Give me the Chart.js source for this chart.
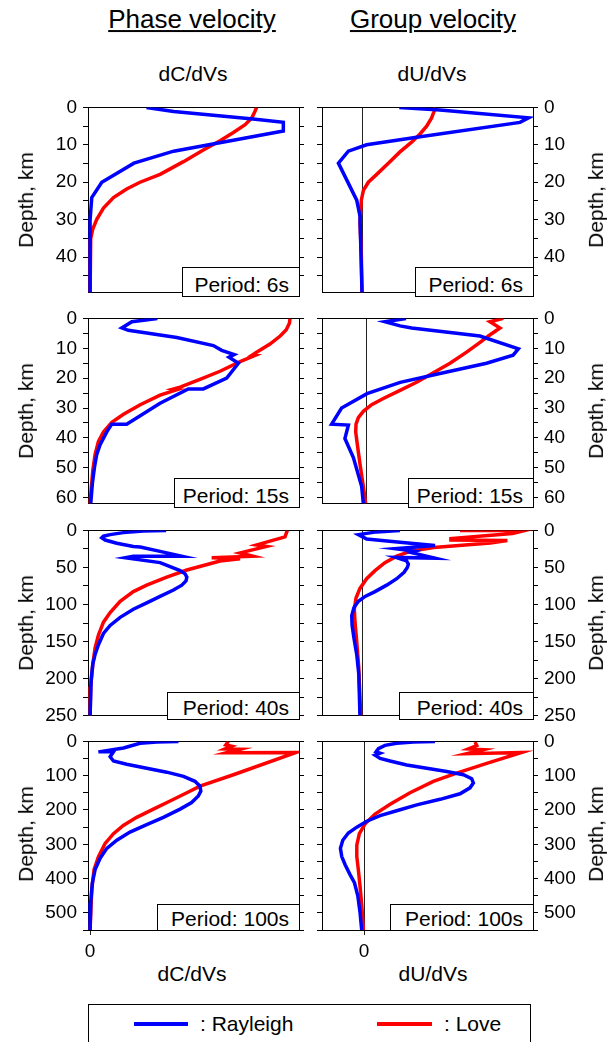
<!DOCTYPE html>
<html>
<head>
<meta charset="utf-8">
<title>Depth sensitivity kernels</title>
<script src="https://cdn.jsdelivr.net/npm/chart.js@4.4.0/dist/chart.umd.min.js"></script>
<style>
  body { margin: 0; background: #fff; font-family: "Liberation Sans", Arial, sans-serif; color: #000; }
  #page { position: relative; width: 614px; height: 1042px; overflow: hidden; background: #fff; }
  .t { position: absolute; white-space: nowrap; transform: translate(-50%, -50%); line-height: 1.15; }
  .rot { transform: translate(-50%, -50%) rotate(-90deg); }
  .period { position: absolute; box-sizing: border-box; border: 1px solid #000; background: #fff; }
  .period span { position: absolute; right: 10px; font-size: 21px; line-height: 1.15; transform: translateY(-50%); white-space: nowrap; }
  .legend { position: absolute; left: 88px; top: 1004px; width: 443px; height: 60px; box-sizing: border-box; border: 1px solid #000; }
  .swatch { position: absolute; height: 4px; top: 17px; }
</style>
</head>
<body>
<div id="page">
  <div class="t" style="left:192px;top:20px;font-size:26px;text-decoration:underline;">Phase velocity</div>
  <div class="t" style="left:433px;top:20px;font-size:26px;text-decoration:underline;">Group velocity</div>
  <div class="t" style="left:193px;top:74px;font-size:21px;">dC/dVs</div>
  <div class="t" style="left:432px;top:74px;font-size:21px;">dU/dVs</div>
  <div class="t" style="left:192px;top:974px;font-size:21px;">dC/dVs</div>
  <div class="t" style="left:433px;top:974px;font-size:21px;">dU/dVs</div>
  <div class="legend">
    <div class="swatch" style="left:45px;width:54px;background:#0000ff;"></div>
    <div class="t" style="left:111px;top:19px;font-size:21px;transform:translateY(-50%);">: Rayleigh</div>
    <div class="swatch" style="left:288px;width:55px;background:#ff0000;"></div>
    <div class="t" style="left:355px;top:19px;font-size:21px;transform:translateY(-50%);">: Love</div>
  </div>
</div>
<script>
// depth axis per period panel
const periods = ['6s', '15s', '40s', '100s'];
const depthMax = [49.5, 62, 250, 550];
const depthStep = [5, 5, 25, 50];
const depthLabelStep = [10, 10, 50, 100];

// horizontal ranges (sensitivity, arbitrary units, 0 marked)
const phaseMin = -0.01;
const groupMin = [-0.234, -0.271, -0.234, -0.249];
const velMax = 1;

// [sensitivity, depth km]
const rayleighPhase6 = [[0.27,0],[0.40,1.1],[0.78,3.1],[0.925,4],[0.925,6.3],[0.40,11.7],[0.21,14.9],[0.056,20],[0.008,24.1],[0,30],[0,49.5]];
const lovePhase6 = [[0.797,0],[0.789,1.1],[0.774,2.8],[0.742,4.6],[0.686,6.7],[0.622,8.9],[0.542,11.4],[0.447,14.5],[0.335,17.9],[0.239,20],[0.175,21.8],[0.112,24.1],[0.064,26.9],[0.032,29.9],[0.013,32.5],[0.003,35.1],[0,39.4],[0,49.5]];
const rayleighGroup6 = [[0.218,0],[0.456,0.7],[0.973,2.8],[0.924,4],[0.32,8],[0.027,10],[-0.08,11.7],[-0.138,14.9],[-0.031,24.8],[-0.012,29],[0,49.5]];
const loveGroup6 = [[0.427,0],[0.421,1.1],[0.407,2.8],[0.378,5],[0.339,7.1],[0.29,9.3],[0.222,11.9],[0.154,14.9],[0.086,17.9],[0.037,20],[0.008,22.2],[-0.004,24.8],[-0.012,30.8],[-0.004,39.4],[0,49.5]];

const rayleighPhase15 = [[0.322,0],[0.2,1.1],[0.152,3.2],[0.183,4],[0.415,6.4],[0.59,9.1],[0.63,10.7],[0.69,12.1],[0.665,13],[0.71,15],[0.654,20],[0.542,23.6],[0.47,23.6],[0.335,28.4],[0.175,35.4],[0.104,35.4],[0.08,38],[0.048,42.3],[0.032,45.5],[0.021,49.8],[0.011,55.2],[0.003,62]];
const lovePhase15 = [[0.957,0],[0.954,1.6],[0.939,3.8],[0.91,5.9],[0.861,8.6],[0.797,11.3],[0.775,12.3],[0.79,12.4],[0.718,14.5],[0.622,17.7],[0.526,20.4],[0.431,23],[0.40,23.6],[0.42,23.8],[0.335,25.7],[0.24,28.9],[0.16,32.1],[0.104,34.8],[0.064,38],[0.04,41.2],[0.024,45.5],[0.013,50.9],[0.005,57.3],[0,62]];
const rayleighGroup15 = [[0.235,0],[0.108,1.1],[0.199,2.5],[0.269,3.2],[0.68,5.9],[0.912,10.2],[0.88,12.3],[0.72,15],[0.46,18.2],[0.2,21.4],[0,25.2],[-0.153,30],[-0.213,35.4],[-0.112,35.7],[-0.133,40.2],[-0.082,46.6],[-0.032,56.3],[-0.022,62]];
const loveGroup15 = [[0.821,0],[0.741,1.1],[0.801,3.2],[0.731,5.9],[0.681,8],[0.6,11.3],[0.5,15],[0.4,18.2],[0.299,21.4],[0.199,24.1],[0.098,26.8],[0.028,28.9],[-0.022,31.1],[-0.052,33.2],[-0.066,35.4],[-0.068,38],[-0.058,42.3],[-0.042,48.8],[-0.022,56.3],[-0.008,62]];

const rayleighPhase40 = [[0.364,0],[0.255,0.9],[0.159,3],[0.096,5.7],[0.064,7.8],[0.056,10],[0.072,13],[0.128,17.4],[0.207,21.7],[0.24,22.5],[0.335,28.3],[0.439,34.8],[0.207,34.8],[0.167,37],[0.335,43.5],[0.431,54.3],[0.455,58.7],[0.463,63],[0.459,68.3],[0.439,73.9],[0.399,80.4],[0.335,89.1],[0.271,97.8],[0.207,106.5],[0.144,117.4],[0.096,128.3],[0.064,139.1],[0.04,154.3],[0.024,167.4],[0.013,180.4],[0.005,202],[0,250]];
const lovePhase40 = [[0.944,0],[0.933,8.7],[0.797,19.6],[0.845,21.7],[0.718,30.4],[0.78,34.8],[0.582,37],[0.718,38.3],[0.622,41.3],[0.463,53.5],[0.367,63],[0.271,73.9],[0.207,82.6],[0.144,95.7],[0.096,110.9],[0.064,123.9],[0.04,141.3],[0.024,158.7],[0.013,180.4],[0.003,210.9],[0,250]];
const rayleighGroup40 = [[0.222,0],[0.086,2],[-0.021,5.7],[0.027,11.7],[0.222,16],[0.427,20.4],[0.193,24.8],[0.31,28.3],[0.29,30],[0.427,37.4],[0.2,36.5],[0.26,41],[0.271,45.7],[0.265,50],[0.246,56.5],[0.203,65.2],[0.144,73.9],[0.076,82.6],[0.018,89.1],[-0.021,95.7],[-0.047,104],[-0.06,115],[-0.058,128],[-0.047,145.7],[-0.031,167.4],[-0.019,193.5],[-0.012,250]];
const loveGroup40 = [[0.573,0],[0.953,0],[0.88,4.3],[0.52,11],[0.52,13],[0.85,13.5],[0.75,17],[0.42,23],[0.281,28.3],[0.203,34.8],[0.134,43.5],[0.076,54.3],[0.027,65.2],[-0.012,78.3],[-0.035,91.3],[-0.045,106.5],[-0.041,124],[-0.031,150],[-0.019,184.8],[-0.008,250]];

const rayleighPhase100 = [[0.423,0],[0.319,1.9],[0.239,5.7],[0.16,19],[0.04,30.5],[0.112,30.5],[0.096,44.8],[0.112,57.3],[0.175,66.8],[0.271,78.2],[0.367,89.7],[0.447,102.1],[0.502,116.4],[0.526,130.7],[0.53,145],[0.518,159.4],[0.486,178.4],[0.431,197.5],[0.351,221.4],[0.271,242.4],[0.191,264.3],[0.128,288.2],[0.08,312],[0.048,340.6],[0.024,374],[0.011,412.2],[0.003,469.5],[0,550]];
const lovePhase100 = [[0.662,0],[0.65,10],[0.678,14],[0.646,22],[0.718,23],[0.654,33],[0.986,32.4],[0.686,97.3],[0.526,130.7],[0.463,149.8],[0.383,173.7],[0.303,197.5],[0.223,221.4],[0.159,245.2],[0.112,269],[0.072,297.7],[0.04,335.9],[0.019,374],[0.008,431.3],[0,550]];
const rayleighGroup100 = [[0.42,0],[0.292,1.9],[0.193,5.7],[0.124,11.5],[0.085,21],[0.071,30.5],[0.095,34.4],[0.065,40.1],[0.095,49.6],[0.154,57.3],[0.252,68.7],[0.371,78.2],[0.489,87.8],[0.588,97.3],[0.637,108.8],[0.647,121.2],[0.627,135.5],[0.568,152.7],[0.45,168.9],[0.312,185.1],[0.193,202.3],[0.095,216.6],[0.016,232.8],[-0.043,250],[-0.093,267.2],[-0.126,288.2],[-0.14,312],[-0.132,335.9],[-0.112,359.7],[-0.083,388.4],[-0.057,412.2],[-0.037,450.4],[-0.024,498.1],[-0.014,550]];
const loveGroup100 = [[0.657,2],[0.667,12],[0.617,22],[0.706,24],[0.607,36],[0.933,32.4],[0.726,63.9],[0.548,92.6],[0.41,116.4],[0.272,149.8],[0.154,183.2],[0.065,211.8],[0.006,240.5],[-0.028,269],[-0.043,302.5],[-0.043,335.9],[-0.034,374],[-0.024,421.8],[-0.012,488.5],[-0.004,550]];

const rayleighPhase = [rayleighPhase6, rayleighPhase15, rayleighPhase40, rayleighPhase100];
const lovePhase = [lovePhase6, lovePhase15, lovePhase40, lovePhase100];
const rayleighGroup = [rayleighGroup6, rayleighGroup15, rayleighGroup40, rayleighGroup100];
const loveGroup = [loveGroup6, loveGroup15, loveGroup40, loveGroup100];

// layout
const panelTop = [104, 315, 527, 738];
const panelHeight = 192;
const phaseBoxLeft = [182, 174, 167, 157];
const groupBoxLeft = [415, 408, 399, 390];
const boxTop = [267, 478, 692, 904];

const FONT = '"Liberation Sans", Arial, sans-serif';
Chart.defaults.font.family = FONT;
Chart.defaults.color = '#000';

const page = document.getElementById('page');

function fixSize(px) {
  return s => { if (s.isHorizontal()) s.height = px; else s.width = px; };
}

function depthAxis(i, position, showLabels, size) {
  return {
    type: 'linear', position, reverse: true,
    min: 0, max: depthMax[i],
    afterFit: fixSize(size),
    border: { display: true, color: '#000', width: 1 },
    grid: { drawOnChartArea: false, drawTicks: true, tickLength: 5, color: '#000', lineWidth: 1 },
    ticks: {
      display: showLabels, stepSize: depthStep[i], autoSkip: false, includeBounds: false,
      padding: 6, font: { size: 19 },
      callback: v => (v % depthLabelStep[i] === 0 ? String(v) : '')
    }
  };
}

function velAxis(xMin, position, size, zeroLine, zeroTick) {
  return {
    type: 'linear', position, min: xMin, max: velMax,
    afterFit: fixSize(size),
    afterBuildTicks: s => { s.ticks = [{ value: 0 }]; },
    border: { display: true, color: '#000', width: 1 },
    grid: {
      display: zeroLine || zeroTick, drawOnChartArea: zeroLine, drawTicks: zeroTick,
      tickLength: 5, color: '#222', lineWidth: 1
    },
    ticks: { display: zeroTick, padding: 5, font: { size: 19 }, callback: () => '0' }
  };
}

function line(pairs, color) {
  return {
    data: pairs.map(([v, d]) => ({ x: v, y: d })),
    showLine: true, borderColor: color, backgroundColor: color,
    borderWidth: 3.5, pointRadius: 0, fill: false, tension: 0
  };
}

function makeChart(i, isPhase) {
  const last = i === periods.length - 1;
  const topPad = 14, botPad = last ? 36 : 14;
  const w = isPhase ? 310 : 304;
  const h = panelHeight + topPad + botPad;
  const cv = document.createElement('canvas');
  cv.width = w; cv.height = h;
  cv.style.cssText = `position:absolute;left:${isPhase ? 0 : 310}px;top:${panelTop[i] - topPad}px;width:${w}px;height:${h}px;`;
  page.appendChild(cv);
  const xMin = isPhase ? phaseMin : groupMin[i];
  new Chart(cv, {
    type: 'scatter',
    data: {
      datasets: [
        line(isPhase ? rayleighPhase[i] : rayleighGroup[i], '#0000ff'),
        line(isPhase ? lovePhase[i] : loveGroup[i], '#ff0000')
      ]
    },
    options: {
      responsive: false, animation: false, devicePixelRatio: 1,
      layout: { padding: 0 },
      plugins: { legend: { display: false }, tooltip: { enabled: false } },
      scales: {
        x: velAxis(xMin, 'bottom', botPad, !isPhase, last),
        xTop: velAxis(xMin, 'top', topPad, false, false),
        y: depthAxis(i, isPhase ? 'left' : 'right', true, isPhase ? 88 : 81),
        yOther: depthAxis(i, isPhase ? 'right' : 'left', false, isPhase ? 11 : 12)
      }
    }
  });

  // period box in the lower right corner of the panel
  const bottom = panelTop[i] + panelHeight;
  const right = isPhase ? 299 : 533;
  const left = isPhase ? phaseBoxLeft[i] : groupBoxLeft[i];
  const box = document.createElement('div');
  box.className = 'period';
  box.style.cssText = `left:${left}px;top:${boxTop[i]}px;width:${right - left + 1}px;height:${bottom - boxTop[i] + 1}px;`;
  const span = document.createElement('span');
  span.textContent = 'Period: ' + periods[i];
  span.style.top = (bottom - 12.5 - boxTop[i]) + 'px';
  box.appendChild(span);
  page.appendChild(box);

  // depth label
  const lab = document.createElement('div');
  lab.className = 't rot';
  lab.textContent = 'Depth, km';
  lab.style.cssText = `left:${isPhase ? 26 : 596}px;top:${panelTop[i] + panelHeight / 2}px;font-size:21px;`;
  page.appendChild(lab);
}

for (let i = 0; i < periods.length; i++) {
  makeChart(i, true);
  makeChart(i, false);
}
</script>
</body>
</html>
